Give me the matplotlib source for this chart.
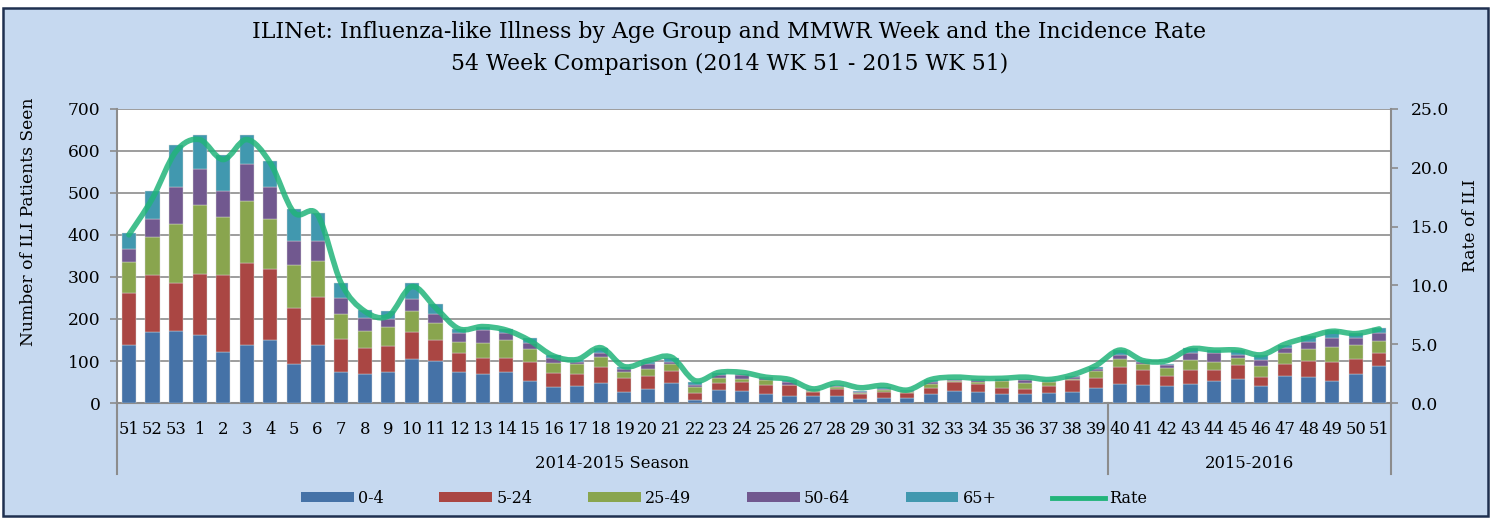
import numpy as np
import matplotlib.pyplot as plt
from matplotlib.path import Path
from matplotlib.patches import PathPatch, Patch, Rectangle
from matplotlib.lines import Line2D
import matplotlib.transforms as mtransforms

plt.rcParams['font.family'] = 'DejaVu Serif'

weeks = ['51', '52', '53'] + [str(w) for w in range(1, 52)]
seasons = ['2014-2015 Season', '2015-2016']
season_sizes = [42, 12]

age_groups = ['0-4', '5-24', '25-49', '50-64', '65+']
age_0_4 = [137, 170, 171, 161, 121, 139, 151, 92, 139, 75, 70, 75, 105, 99, 75, 70, 75, 53, 39, 41,
           48, 26, 33, 48, 8, 32, 29, 22, 17, 17, 17, 9, 13, 12, 21, 29, 27, 22, 22, 24,
           27, 36, 46, 44, 40, 46, 53, 56, 40, 64, 62, 53, 70, 89]
age_5_24 = [124, 134, 114, 147, 184, 194, 167, 135, 114, 78, 61, 61, 63, 52, 44, 38, 33, 45, 33, 28,
            38, 34, 32, 28, 16, 16, 21, 22, 25, 9, 16, 12, 13, 12, 15, 21, 19, 14, 11, 16,
            28, 24, 40, 34, 25, 32, 25, 35, 22, 28, 38, 45, 35, 29]
age_25_49 = [74, 92, 141, 164, 138, 149, 121, 101, 85, 59, 41, 46, 50, 39, 27, 35, 43, 30, 24, 23,
             24, 13, 15, 16, 13, 12, 8, 10, 2, 3, 4, 3, 5, 3, 10, 2, 5, 17, 15, 10,
             3, 16, 18, 14, 18, 24, 20, 17, 26, 26, 28, 36, 33, 29]
age_50_64 = [32, 43, 88, 86, 62, 88, 75, 58, 47, 37, 30, 17, 29, 21, 20, 30, 15, 15, 10, 6,
             10, 8, 14, 6, 7, 7, 8, 5, 6, 2, 3, 3, 3, 2, 5, 3, 4, 3, 6, 2,
             3, 5, 10, 5, 7, 16, 20, 6, 14, 12, 18, 20, 16, 19]
age_65 = [38, 65, 101, 79, 85, 67, 61, 76, 68, 36, 20, 19, 38, 24, 10, 8, 10, 12, 8, 4,
          10, 5, 4, 8, 6, 5, 4, 3, 4, 2, 2, 1, 4, 1, 3, 3, 3, 2, 4, 2,
          3, 5, 12, 5, 4, 12, 8, 13, 12, 8, 13, 21, 12, 12]
rate = [14.3, 17.4, 21.4, 22.4, 20.7, 22.4, 20.4, 16.2, 16.0, 10.2, 7.8, 7.4, 9.9, 8.1, 6.3, 6.5, 6.2, 5.3, 4.0, 3.7,
        4.7, 3.1, 3.6, 3.9, 1.9, 2.6, 2.6, 2.2, 2.0, 1.2, 1.7, 1.3, 1.5, 1.1, 2.0, 2.2, 2.1, 2.1, 2.2, 2.0,
        2.4, 3.2, 4.5, 3.6, 3.6, 4.6, 4.5, 4.5, 4.1, 5.0, 5.6, 6.1, 5.9, 6.3]

colors = ['#4572A7', '#AA4643', '#89A54E', '#71588F', '#4198AF']
line_color = '#22B47A'
grid_color = '#8C8C8C'
bg = '#C6D9F0'

fig = plt.figure(figsize=(14.93, 5.19), dpi=100, facecolor='white')
fig.patches.append(Rectangle((0.002, 0.006), 0.9946, 0.978, transform=fig.transFigure,
                             facecolor=bg, edgecolor='#1F3050', linewidth=1.8, zorder=-10))

ax = fig.add_axes([0.0784, 0.2235, 0.8533, 0.5665])
ax.set_facecolor('white')
x = np.arange(len(weeks))
bottom = np.zeros(len(weeks))
for vals, c in zip([age_0_4, age_5_24, age_25_49, age_50_64, age_65], colors):
    ax.bar(x, vals, width=0.6, bottom=bottom, color=c, edgecolor='#d8d8d8', linewidth=0.3, zorder=3)
    bottom += np.array(vals)

ax.set_xlim(-0.5, len(weeks) - 0.5)
ax.set_ylim(0, 700)
ax.set_yticks(range(0, 701, 100))
ax.yaxis.grid(True, color=grid_color, linewidth=1.2, zorder=0)
ax.set_axisbelow(True)
ax.set_xticks(x)
ax.set_xticklabels(weeks, fontsize=11.8)
ax.tick_params(axis='x', length=0, pad=13)
ax.tick_params(axis='y', length=5, color=grid_color, width=1.2, labelsize=12.3, pad=7, direction='out')
for s in ['top', 'right']:
    ax.spines[s].set_visible(False)
ax.spines['left'].set_color(grid_color)
ax.spines['left'].set_linewidth(1.5)
ax.spines['bottom'].set_color(grid_color)
ax.spines['bottom'].set_linewidth(1.5)

ax2 = ax.twinx()
ax2.set_ylim(0, 25)
ax2.set_yticks(np.arange(0, 25.1, 5))
ax2.set_yticklabels([f'{v:.1f}' for v in np.arange(0, 25.1, 5)])
ax2.tick_params(axis='y', length=5, color=grid_color, width=1.2, labelsize=12.3, pad=9, direction='out')
for s in ['top', 'left', 'bottom']:
    ax2.spines[s].set_visible(False)
ax2.spines['right'].set_color(grid_color)
ax2.spines['right'].set_linewidth(1.5)

# smoothed rate line (Catmull-Rom style bezier through the data points)
pts = np.column_stack([x, rate]).astype(float)
verts = [pts[0]]
codes = [Path.MOVETO]
n = len(pts)
for i in range(n - 1):
    p0 = pts[i - 1] if i > 0 else pts[i]
    p1, p2 = pts[i], pts[i + 1]
    p3 = pts[i + 2] if i + 2 < n else pts[i + 1]
    verts += [p1 + (p2 - p0) / 6, p2 - (p3 - p1) / 6, p2]
    codes += [Path.CURVE4] * 3
ax2.add_patch(PathPatch(Path(verts, codes), fill=False, edgecolor=line_color,
                        linewidth=4, alpha=0.85, capstyle='round', zorder=5))

# season group labels and separators
trans = mtransforms.blended_transform_factory(ax.transData, ax.transAxes)
edges = np.concatenate([[0], np.cumsum(season_sizes)]) - 0.5
for e in edges:
    ax.add_line(Line2D([e, e], [0, -0.24], transform=trans, color=grid_color,
                       linewidth=1.5, clip_on=False))
for name, a, b in zip(seasons, edges[:-1], edges[1:]):
    ax.text((a + b) / 2, -0.205, name, transform=trans, ha='center', va='center', fontsize=11.8)

fig.text(0.4885, 0.938, 'ILINet: Influenza-like Illness by Age Group and MMWR Week and the Incidence Rate',
         ha='center', va='center', fontsize=15.8)
fig.text(0.4885, 0.877, '54 Week Comparison (2014 WK 51 - 2015 WK 51)',
         ha='center', va='center', fontsize=15.8)
fig.text(0.019, 0.572, 'Number of ILI Patients Seen', rotation=90, ha='center', va='center', fontsize=12.3)
fig.text(0.985, 0.565, 'Rate of ILI', rotation=90, ha='center', va='center', fontsize=12.3)

handles = [Patch(facecolor=c) for c in colors] + [Line2D([], [], color=line_color, linewidth=3.5)]
fig.legend(handles, age_groups + ['Rate'], loc='center', bbox_to_anchor=(0.485, 0.04), ncol=6,
           frameon=False, fontsize=11.5, handlelength=3.3, handleheight=0.55,
           handletextpad=0.25, columnspacing=3.5)

fig.savefig('out.png', dpi=100, facecolor='white')
